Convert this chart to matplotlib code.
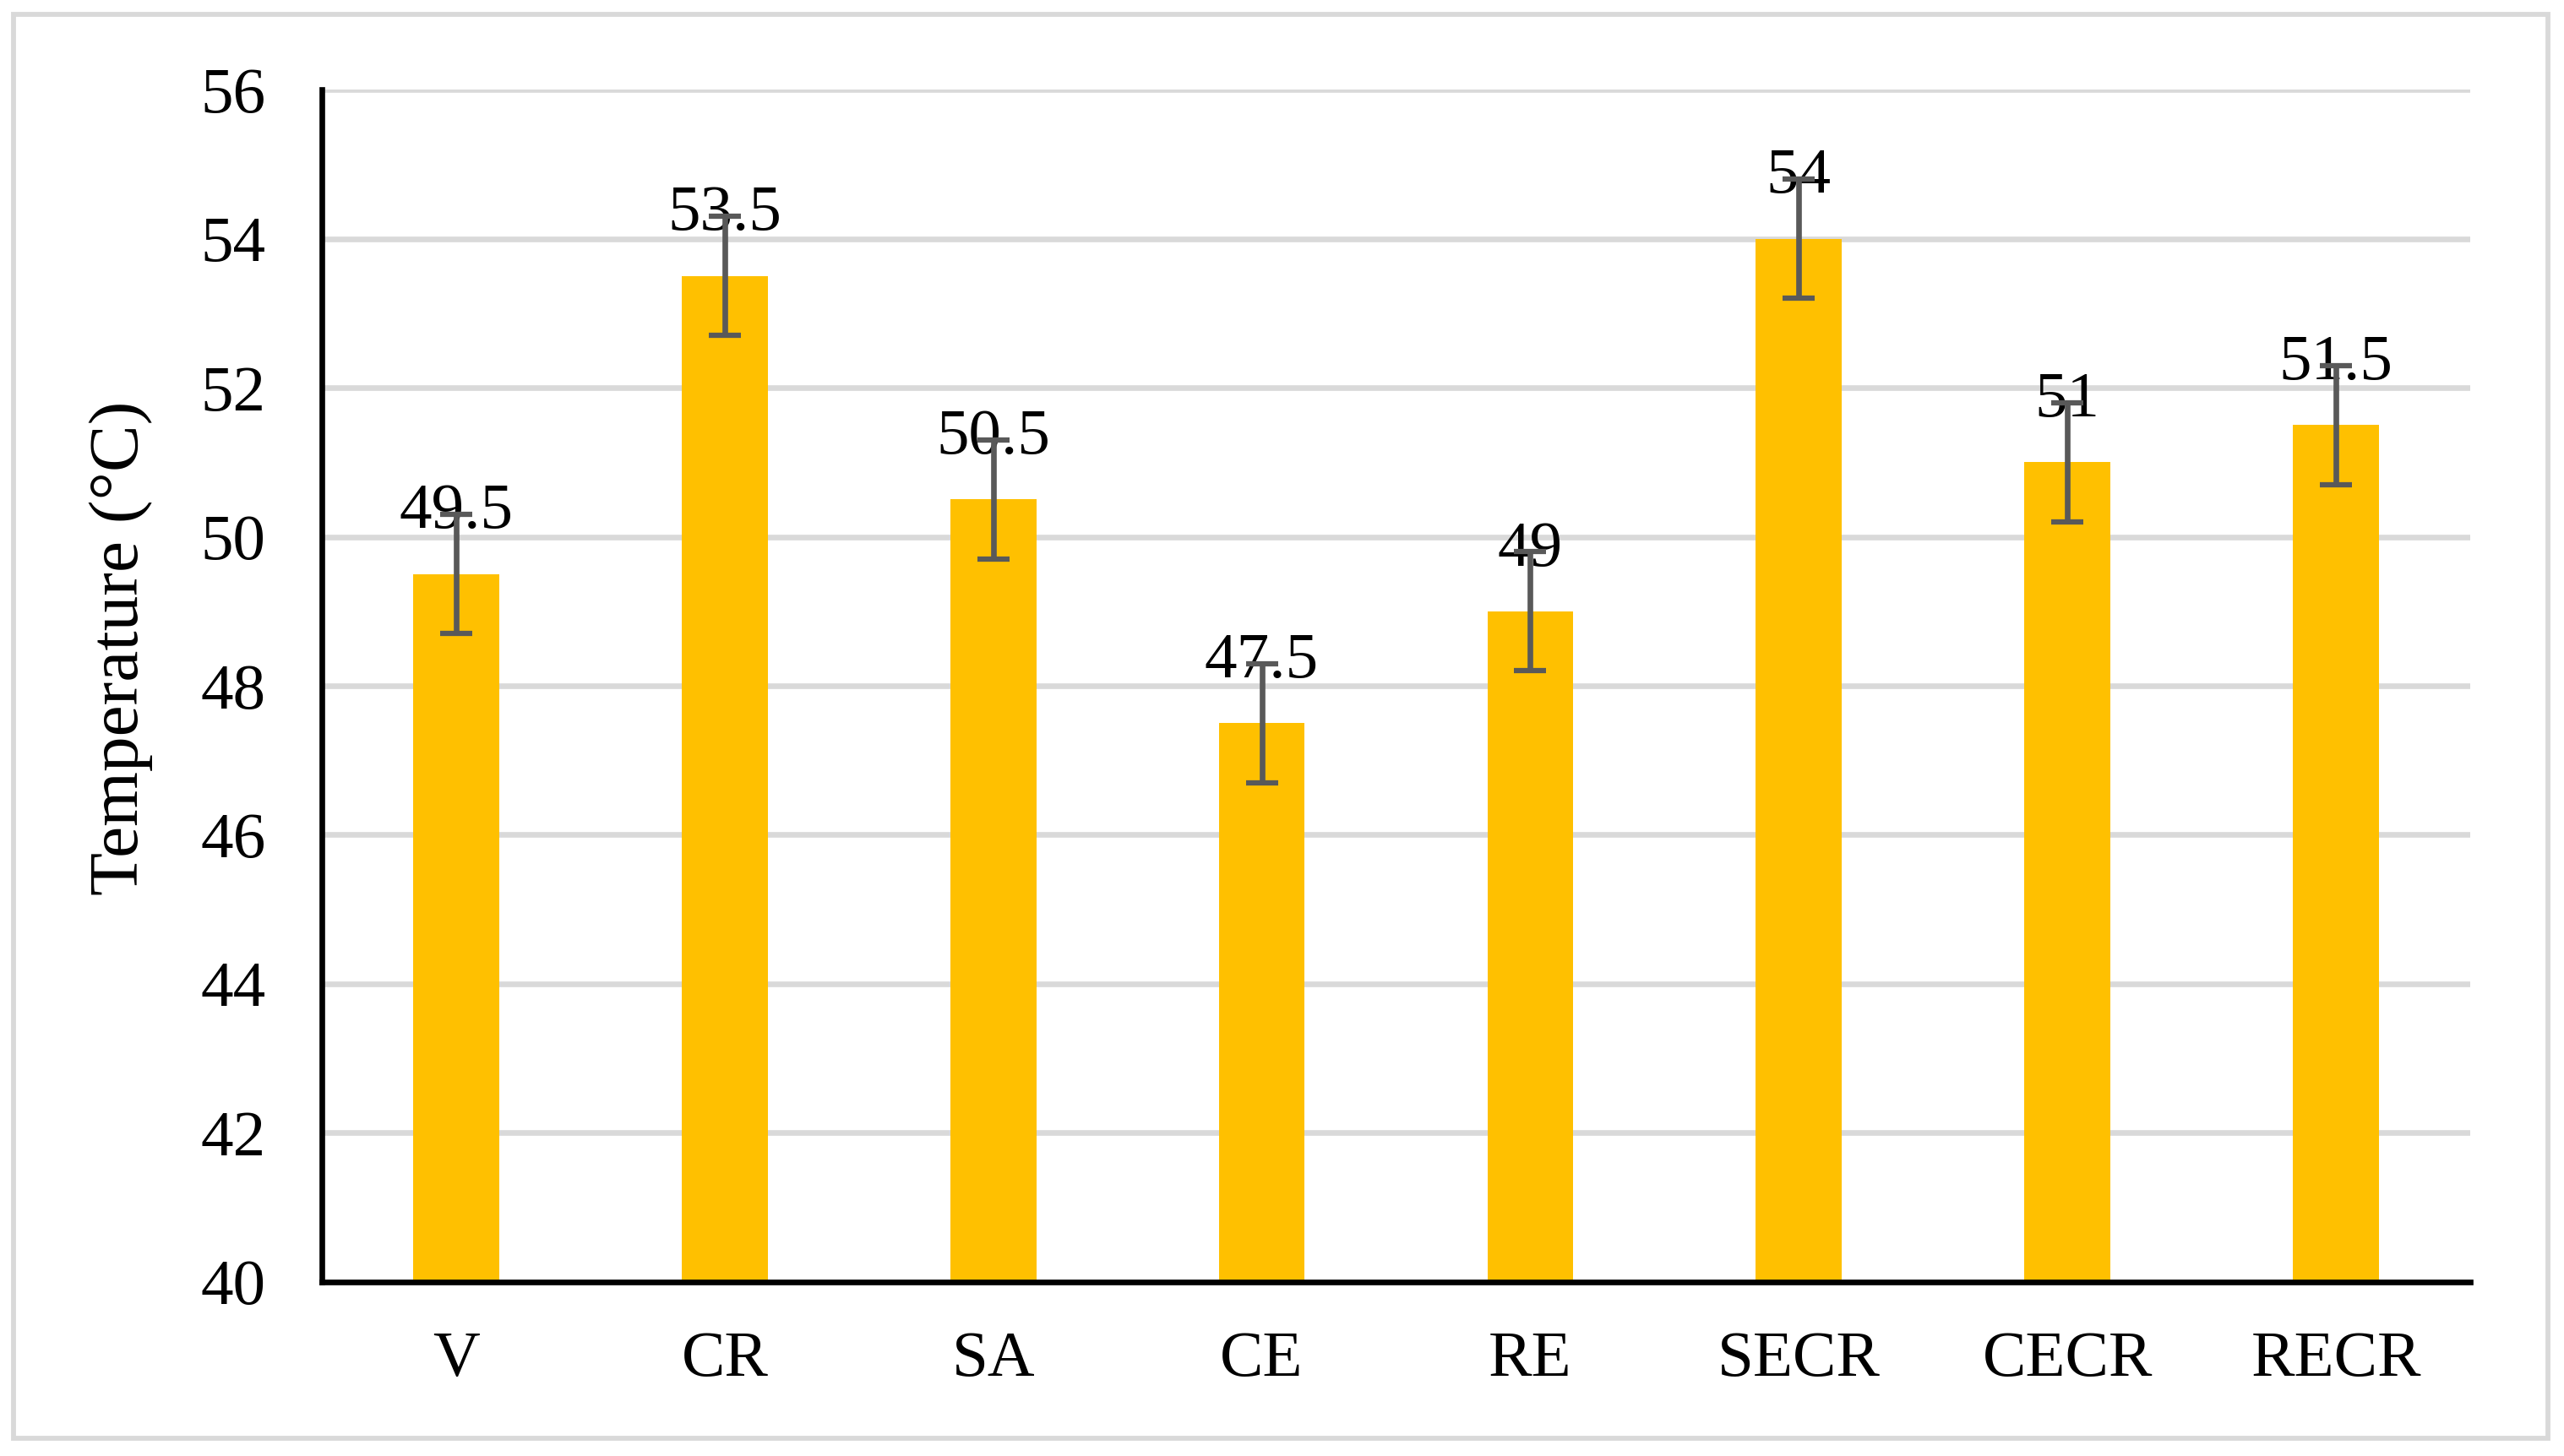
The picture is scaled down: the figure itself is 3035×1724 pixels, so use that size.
import numpy as np
import matplotlib.pyplot as plt
import matplotlib as mpl

plt.rcParams['font.family'] = ['Liberation Serif', 'DejaVu Serif']
plt.rcParams.update({'font.size': 18.5})

"Input"
categories = ['V', 'CR', 'SA', 'CE', 'RE', 'SECR', 'CECR', 'RECR']
temperature = [49.5, 53.5, 50.5, 47.5, 49, 54, 51, 51.5]
err = [0.8, 0.8, 0.8, 0.8, 0.8, 0.8, 0.8, 0.8]
yticks = [40, 42, 44, 46, 48, 50, 52, 54, 56]

bar_color = '#FFC000'
err_color = '#595959'
grid_color = '#D9D9D9'

fig = plt.figure(figsize=(10.12, 5.7467), dpi=300)
ax = fig.add_axes([0.1255, 0.1195, 0.9631 - 0.1255, 0.9385 - 0.1195])

x = np.arange(len(categories))
ax.bar(x, [t - 40 for t in temperature], bottom=40, width=0.32, color=bar_color, zorder=2)
ax.errorbar(x, temperature, yerr=err, fmt='none', ecolor=err_color, elinewidth=1.6,
            capsize=4.6, capthick=1.5, zorder=4)

# data labels, excel style "outside end"
for xi, t in zip(x, temperature):
    ax.annotate('{:g}'.format(t), xy=(xi, t), xytext=(0, 13), textcoords='offset points',
                ha='center', va='baseline', fontsize=18.5, color='black', zorder=3)

ax.set_xlim(-0.5, len(categories) - 0.5)
ax.set_ylim(40, 56)
ax.set_yticks(yticks)
ax.set_xticks(x)
ax.set_xticklabels(categories)
ax.tick_params(axis='both', length=0, labelsize=18.5)
ax.tick_params(axis='x', pad=14)
ax.tick_params(axis='y', pad=16)

ax.grid(axis='y', color=grid_color, linewidth=1.6, zorder=0)
ax.set_axisbelow(True)
for s in ['top', 'right']:
    ax.spines[s].set_visible(False)
for s in ['left', 'bottom']:
    ax.spines[s].set_linewidth(1.6)
    ax.spines[s].set_color('black')

ax.set_ylabel('Temperature (°C)', fontsize=20)
ax.yaxis.label.set_va('center')
ax.yaxis.set_label_coords(-0.0936, 0.532)

# outer chart border
border = mpl.patches.Rectangle((0.0053, 0.0122), 0.9934 - 0.0053, 0.990 - 0.0122,
                               transform=fig.transFigure, fill=False,
                               edgecolor=grid_color, linewidth=1.4)
fig.patches.append(border)

fig.savefig('out.png', dpi=300, facecolor='white')
